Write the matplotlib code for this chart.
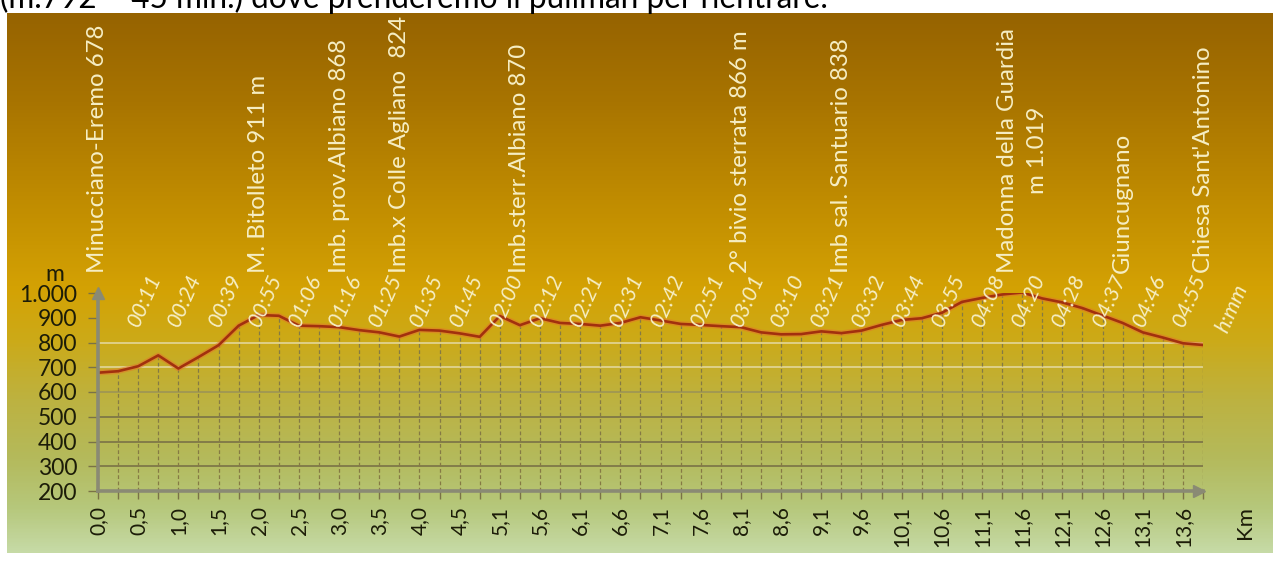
import numpy as np
import matplotlib
matplotlib.use("Agg")
import matplotlib.pyplot as plt
from matplotlib.colors import LinearSegmentedColormap

plt.rcParams['font.family'] = ['Lato', 'DejaVu Sans']

# quota (m) a ogni tacca dell'asse, da Minucciano a Chiesa Sant'Antonino
quota = [678, 684, 704, 748, 695, 741, 789, 868, 911, 908,
         868, 866, 862, 850, 841, 824, 851, 848, 837, 823,
         907, 870, 898, 879, 875, 868, 879, 902, 889, 875,
         871, 866, 862, 841, 833, 834, 845, 838, 848, 871,
         891, 898, 920, 964, 980, 994, 1002, 978, 962, 939,
         909, 879, 841, 820, 797, 790]

# etichette km (una tacca si e una no)
km_labels = ['0,0', '0,5', '1,0', '1,5', '2,0', '2,5', '3,0', '3,5', '4,0', '4,5',
             '5,1', '5,6', '6,1', '6,6', '7,1', '7,6', '8,1', '8,6', '9,1', '9,6',
             '10,1', '10,6', '11,1', '11,6', '12,1', '12,6', '13,1', '13,6']

# tempi di percorrenza h:mm (dalla seconda etichetta km in poi)
tempi = ['00:11', '00:24', '00:39', '00:55', '01:06', '01:16', '01:25', '01:35', '01:45',
         '02:00', '02:12', '02:21', '02:31', '02:42', '02:51', '03:01', '03:10', '03:21',
         '03:32', '03:44', '03:55', '04:08', '04:20', '04:28', '04:37', '04:46', '04:55']

# località e tacca corrispondente
luoghi = ['Minucciano-Eremo 678', 'M. Bitolleto 911 m', 'Imb. prov.Albiano 868',
          'Imb.x Colle Agliano  824', 'Imb.sterr.Albiano 870', '2° bivio sterrata 866 m',
          'Imb sal. Santuario 838', 'Madonna della Guardia\nm 1.019', 'Giuncugnano',
          "Chiesa Sant'Antonino"]
luoghi_idx = [0, 8, 12, 15, 21, 32, 37, 46, 51, 55]

yticks = [200, 300, 400, 500, 600, 700, 800, 900, 1000]
ytick_labels = ['200', '300', '400', '500', '600', '700', '800', '900', '1.000']

W, H = 1273, 561
fig = plt.figure(figsize=(W / 100, H / 100), dpi=100)
fig.patch.set_facecolor('white')

# sfondo sfumato
bg = fig.add_axes([7 / W, (H - 553) / H, (W - 7) / W, (553 - 13) / H])
stops = [(13, '#966300'), (100, '#a87400'), (200, '#c08c00'), (290, '#d4a204'),
         (340, '#ccaa18'), (400, '#bdb240'), (460, '#b4ba5c'), (510, '#b6c87c'),
         (553, '#c6daa6')]
cmap = LinearSegmentedColormap.from_list(
    'bg', [((y - 13) / (553 - 13), c) for y, c in stops])
grad = np.linspace(0, 1, 400).reshape(-1, 1)
bg.imshow(grad, aspect='auto', cmap=cmap, extent=[0, 1, 0, 1], origin='upper')
bg.axis('off')

ax = fig.add_axes([98 / W, (H - 491) / H, (1203 - 98) / W, (491 - 293) / H])
ax.patch.set_alpha(0)
x = np.arange(len(quota))
ax.set_xlim(0, len(quota) - 1)
ax.set_ylim(200, 1000)

axcol = '#8a8a74'
txtcol = '#1c1c08'
pale = '#f6eec4'

# griglia orizzontale
for v in [300, 400, 500]:
    ax.axhline(v, color='#7a7246', lw=1.2, zorder=1)
ax.axhline(600, color='#9a9258', lw=1.1, zorder=1)
for v in [700, 800]:
    ax.axhline(v, color='#e4daa4', lw=1.1, zorder=1)

# linee di proiezione tratteggiate
ax.vlines(x, 200, quota, colors='#857a44', lw=0.9, linestyles=(0, (3, 2)), zorder=2)

# profilo
ax.plot(x, quota, color='#e2782a', lw=4.0, alpha=0.55, zorder=3, solid_joinstyle='round')
ax.plot(x, quota, color='#a2300e', lw=1.9, zorder=4, solid_joinstyle='round')

for s in ['top', 'right']:
    ax.spines[s].set_visible(False)
for s in ['left', 'bottom']:
    ax.spines[s].set_color(axcol)
    ax.spines[s].set_linewidth(2.6)
    ax.spines[s].set_zorder(5)
ax.plot([0], [1002], marker='^', ms=9, color=axcol, clip_on=False, zorder=6)
ax.plot([len(quota) - 1.2], [200], marker='>', ms=9, color=axcol, clip_on=False, zorder=6)

ax.set_xticks(x)
ax.set_xticklabels([km_labels[i // 2] if i % 2 == 0 else '' for i in x],
                   rotation=90, fontsize=15, color=txtcol)
ax.tick_params(axis='x', length=6, width=1, color='#7a7246', pad=5)
ax.set_yticks(yticks)
ax.set_yticklabels(ytick_labels, fontsize=16.5, color=txtcol)
ax.tick_params(axis='y', length=7, width=1, color='#7a7246', pad=8)

ax.text(-2.14, 1075, 'm', fontsize=16.5, color=txtcol, ha='center', va='center', clip_on=False)
ax.text(57.1, 72, 'Km', fontsize=16, color=txtcol, rotation=90, ha='center', va='center',
        clip_on=False)

# tempi
for k, t in enumerate(tempi):
    i = 2 * (k + 1)
    ax.text(i + 0.05, 858, t, rotation=66, rotation_mode='anchor', ha='left',
            va='baseline', fontsize=15.5, style='italic', color=pale, zorder=7, clip_on=False)
ax.text(56.2, 835, 'h:mm', rotation=66, rotation_mode='anchor', ha='left',
        va='baseline', fontsize=15.5, style='italic', color=pale, zorder=7, clip_on=False)

# località
for name, i in zip(luoghi, luoghi_idx):
    ax.text(i, 1081, name, rotation=90, ha='center', va='bottom', multialignment='center',
            fontsize=17.3, color=pale, zorder=7, clip_on=False, linespacing=1.55)

fig.text(0.0, 1 - 8 / H, '(m.792 – 45 min.) dove prenderemo il pullman per rientrare.',
         fontsize=22.7, va='baseline', ha='left', color='black')

fig.savefig('out.png', dpi=100)
